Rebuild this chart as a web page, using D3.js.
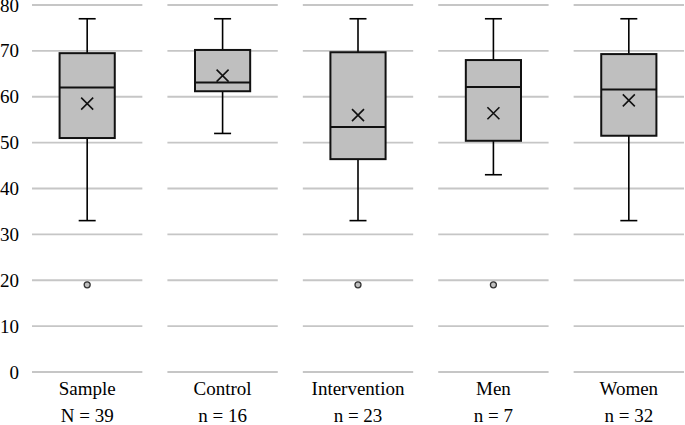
<!DOCTYPE html>
<html>
<head>
<meta charset="utf-8">
<script src="https://cdn.jsdelivr.net/npm/d3@7"></script>
<style>
  body { margin: 0; background: #fff; }
</style>
</head>
<body>
<svg id="chart" width="685" height="425"></svg>
<script>
// data
var categories = ["Sample", "Control", "Intervention", "Men", "Women"];
var counts = ["N = 39", "n = 16", "n = 23", "n = 7", "n = 32"];
var whiskerLow = [33, 52, 33, 43, 33];
var q1 = [51, 61.2, 46.4, 50.4, 51.5];
var median = [62, 63.1, 53.4, 62.1, 61.6];
var q3 = [69.5, 70.2, 69.7, 68, 69.3];
var whiskerHigh = [77, 77, 77, 77, 77];
var means = [58.5, 64.6, 56, 56.4, 59.2];
var outliers = [19, null, 19, 19, null];
var yTicks = [0, 10, 20, 30, 40, 50, 60, 70, 80];

var font = "'Liberation Serif', 'Times New Roman', serif";
var svg = d3.select("#chart");

var x = d3.scaleBand()
  .domain(categories)
  .range([32, 684])
  .paddingInner(0.185)
  .paddingOuter(0);

var y = d3.scaleLinear()
  .domain([0, 80])
  .range([372, 5]);

var bw = x.bandwidth();
var boxW = bw * 0.5;
var capW = 17;

// gridlines, broken per category
categories.forEach(function(c) {
  svg.append("g").selectAll("line")
    .data(yTicks)
    .enter()
    .append("line")
    .attr("x1", x(c))
    .attr("x2", x(c) + bw)
    .attr("y1", function(d) { return y(d); })
    .attr("y2", function(d) { return y(d); })
    .attr("stroke", "#c6c6c6")
    .attr("stroke-width", 1.8);
});

// y tick labels
svg.append("g").selectAll("text")
  .data(yTicks)
  .enter()
  .append("text")
  .attr("x", 19)
  .attr("y", function(d) { return y(d) + 6.5; })
  .attr("text-anchor", "end")
  .style("font-family", font)
  .style("font-size", "19px")
  .attr("fill", "#000")
  .text(function(d) { return d; });

var boxes = svg.append("g").selectAll("g")
  .data(categories)
  .enter()
  .append("g")
  .attr("transform", function(d) { return "translate(" + (x(d) + bw / 2) + ",0)"; });

// whiskers
boxes.append("line")
  .attr("x1", 0).attr("x2", 0)
  .attr("y1", function(d, i) { return y(whiskerHigh[i]); })
  .attr("y2", function(d, i) { return y(q3[i]); })
  .attr("stroke", "#000").attr("stroke-width", 1.6);
boxes.append("line")
  .attr("x1", 0).attr("x2", 0)
  .attr("y1", function(d, i) { return y(q1[i]); })
  .attr("y2", function(d, i) { return y(whiskerLow[i]); })
  .attr("stroke", "#000").attr("stroke-width", 1.6);
boxes.append("line")
  .attr("x1", -capW / 2).attr("x2", capW / 2)
  .attr("y1", function(d, i) { return y(whiskerHigh[i]); })
  .attr("y2", function(d, i) { return y(whiskerHigh[i]); })
  .attr("stroke", "#000").attr("stroke-width", 1.6);
boxes.append("line")
  .attr("x1", -capW / 2).attr("x2", capW / 2)
  .attr("y1", function(d, i) { return y(whiskerLow[i]); })
  .attr("y2", function(d, i) { return y(whiskerLow[i]); })
  .attr("stroke", "#000").attr("stroke-width", 1.6);

// box
boxes.append("rect")
  .attr("x", -boxW / 2)
  .attr("width", boxW)
  .attr("y", function(d, i) { return y(q3[i]); })
  .attr("height", function(d, i) { return y(q1[i]) - y(q3[i]); })
  .attr("fill", "#bfbfbf")
  .attr("stroke", "#111")
  .attr("stroke-width", 2);

// median
boxes.append("line")
  .attr("x1", -boxW / 2).attr("x2", boxW / 2)
  .attr("y1", function(d, i) { return y(median[i]); })
  .attr("y2", function(d, i) { return y(median[i]); })
  .attr("stroke", "#111").attr("stroke-width", 2);

// mean marker (x)
boxes.append("path")
  .attr("d", function(d, i) {
    var my = y(means[i]), s = 6;
    return "M" + (-s) + "," + (my - s) + "L" + s + "," + (my + s) +
           "M" + s + "," + (my - s) + "L" + (-s) + "," + (my + s);
  })
  .attr("stroke", "#111").attr("stroke-width", 1.6).attr("fill", "none");

// outliers
boxes.filter(function(d, i) { return outliers[i] != null; })
  .append("circle")
  .attr("cx", 0)
  .attr("cy", function(d) { return y(outliers[categories.indexOf(d)]); })
  .attr("r", 3)
  .attr("fill", "#bfbfbf")
  .attr("stroke", "#333")
  .attr("stroke-width", 1.3);

// category labels
svg.append("g").selectAll("text")
  .data(categories)
  .enter()
  .append("text")
  .attr("x", function(d) { return x(d) + bw / 2; })
  .attr("y", 395)
  .attr("text-anchor", "middle")
  .style("font-family", font)
  .style("font-size", "19px")
  .text(function(d) { return d; });

svg.append("g").selectAll("text")
  .data(counts)
  .enter()
  .append("text")
  .attr("x", function(d, i) { return x(categories[i]) + bw / 2; })
  .attr("y", 422)
  .attr("text-anchor", "middle")
  .style("font-family", font)
  .style("font-size", "19px")
  .text(function(d) { return d; });
</script>
</body>
</html>
